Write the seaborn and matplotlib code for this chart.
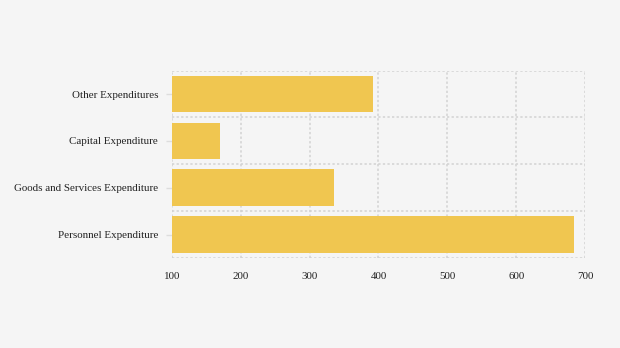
import matplotlib
matplotlib.use("Agg")
import matplotlib.pyplot as plt
import seaborn as sns
import pandas as pd
from matplotlib.ticker import FixedLocator

categories = ["Other Expenditures", "Capital Expenditure",
              "Goods and Services Expenditure", "Personnel Expenditure"]
values = [392, 170, 335, 684]
xticks = [100, 200, 300, 400, 500, 600, 700]

sns.set_theme(style="white")
plt.rcParams['font.family'] = ['Liberation Serif', 'DejaVu Serif']

df = pd.DataFrame({"category": categories, "value": values})

fig = plt.figure(figsize=(6.2, 3.48), dpi=100, facecolor="#f5f5f5")
ax = fig.add_axes([0.2774, 0.2586, 0.6661, 0.5384])
ax.set_facecolor("#f5f5f5")

sns.barplot(data=df, x="value", y="category", orient="h", color="#f0c650",
            saturation=1, width=0.78, linewidth=0, ax=ax, zorder=2)

ax.set_xlim(100, 700)
ax.set_xticks(xticks)
ax.set_xticklabels([str(t) for t in xticks])
ax.set_ylim(3.5, -0.5)
ax.yaxis.set_minor_locator(FixedLocator([-0.5, 0.5, 1.5, 2.5, 3.5]))

ls = (0, (1.5, 1.5))
ax.grid(axis="x", which="major", color="#d2d2d2", linestyle=ls, linewidth=1.1, zorder=0)
ax.grid(axis="y", which="minor", color="#d2d2d2", linestyle=ls, linewidth=1.1, zorder=0)
ax.grid(axis="y", which="major", visible=False)
for s in ax.spines.values():
    s.set_visible(False)

ax.set_xlabel("")
ax.set_ylabel("")
ax.tick_params(axis="x", length=0, pad=10, labelsize=7.9, colors="#222222")
ax.tick_params(axis="y", which="major", length=4, width=1, color="#dddddd",
               labelsize=7.9, labelcolor="#222222", pad=6, left=True)
ax.tick_params(axis="y", which="minor", length=0)

fig.savefig("out.png", dpi=100, facecolor="#f5f5f5")
